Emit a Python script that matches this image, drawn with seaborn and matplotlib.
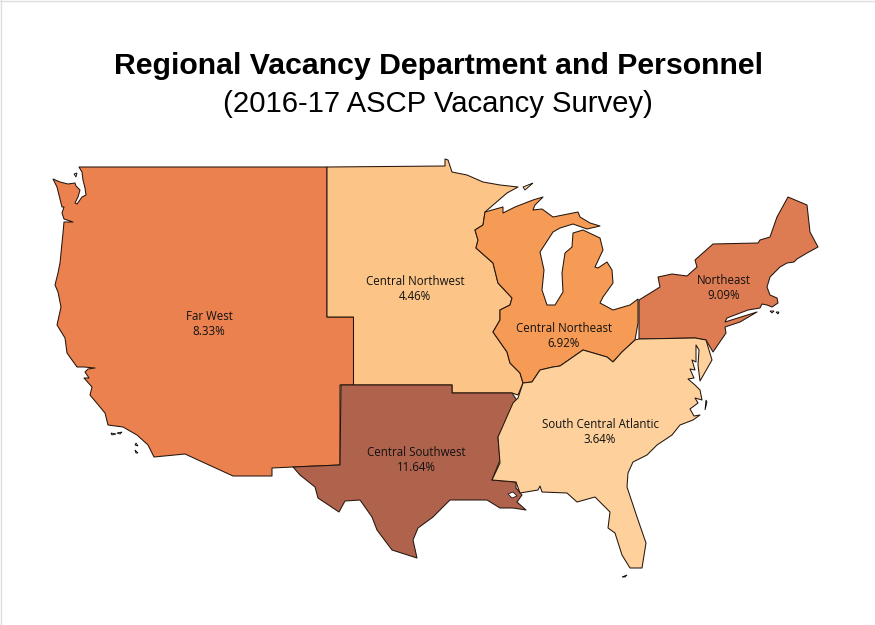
import matplotlib
matplotlib.use("Agg")
import matplotlib.pyplot as plt
import seaborn as sns

regions = ["Far West", "Central Northwest", "Central Northeast", "Northeast",
           "Central Southwest", "South Central Atlantic"]
rates = [8.33, 4.46, 6.92, 9.09, 11.64, 3.64]
region_colors = ["#EA814E", "#FCC486", "#F59B56", "#DD7B52", "#B0634C", "#FDD09C"]

# where the label sits on the map
label_x = [209, 415, 564, 724, 416, 600]
label_y = [324, 289, 336, 288, 460, 432]

# outlines, in picture pixels
far_west = [(79, 167), (327, 167), (327, 317), (353.5, 317), (353.5, 385), (340, 385), (340, 465),
            (293, 467), (272, 468), (272, 476), (233, 476), (185, 454), (154, 457), (148, 445),
            (137, 435), (123, 427), (108, 425), (105, 413), (90, 395), (92, 387), (84, 378),
            (89, 378), (85, 372), (88, 369), (95, 368), (84, 367), (77, 367), (67, 353), (65, 338),
            (57, 325), (61, 307), (58, 292), (55, 285), (58, 273), (60, 263), (63, 233), (64, 222),
            (73, 222), (64, 219), (62, 213), (64, 207), (62, 207), (57, 187), (53, 179), (60, 182),
            (68, 184), (75, 183), (76, 186), (80, 190), (78, 197), (75, 203), (77, 204), (82, 197),
            (86, 195), (85, 188), (83, 180), (82, 172)]
central_northwest = [(327, 167), (445, 166), (445, 159), (448, 160), (452, 172), (467, 175),
                     (483, 182), (500, 185), (518, 187), (507, 193), (485, 212), (483, 225),
                     (475, 230), (478, 240), (476, 248), (493, 263), (498, 283), (512, 298),
                     (510, 305), (500, 310), (500, 320), (493, 332), (507, 352), (510, 363),
                     (520, 373), (523, 383), (518, 395), (512, 393), (452, 393), (452, 385),
                     (353.5, 385), (353.5, 317), (327, 317)]
central_northeast = [(485, 212), (503, 207), (503, 213), (515, 207), (533, 200), (543, 197),
                     (535, 205), (533, 210), (542, 209), (553, 217), (578, 212), (580, 217),
                     (590, 223), (600, 226), (587, 229), (573, 224), (560, 228), (553, 232),
                     (540, 252), (544, 270), (542, 290), (547, 305), (555, 305), (563, 292),
                     (562, 273), (565, 253), (572, 247), (573, 233), (583, 230), (600, 238),
                     (603, 250), (595, 267), (598, 268), (607, 262), (612, 270), (613, 283),
                     (603, 297), (600, 303), (613, 310), (630, 305), (638, 299), (638, 323),
                     (635, 340), (622, 352), (613, 362), (607, 357), (583, 350), (573, 357),
                     (560, 366), (553, 367), (540, 370), (532, 382), (523, 383), (520, 373),
                     (510, 363), (507, 352), (493, 332), (500, 320), (500, 310), (510, 305),
                     (512, 298), (498, 283), (493, 263), (476, 248), (478, 240), (475, 230),
                     (483, 225)]
northeast = [(639, 300), (660, 287), (658, 277), (672, 274), (687, 276), (697, 267), (695, 260),
             (713, 244), (758, 243), (760, 240), (770, 237), (777, 217), (788, 197), (807, 205),
             (810, 232), (818, 247), (807, 253), (797, 259), (794, 262), (787, 263), (780, 267),
             (770, 277), (767, 287), (770, 295), (777, 298), (778, 303), (772, 307), (767, 305),
             (762, 304), (760, 308), (748, 310), (727, 318), (725, 322), (757, 312), (740, 322),
             (725, 327), (726, 333), (713, 352), (706, 340), (695, 338), (639, 339)]
central_southwest = [(341, 385), (452, 385), (452, 393), (512, 393), (518, 402), (510, 413),
                     (498, 437), (500, 460), (492, 480), (516, 482), (516, 488), (522, 495),
                     (517, 502), (526, 510), (513, 508), (500, 508), (487, 500), (462, 500),
                     (450, 500), (445, 505), (433, 517), (418, 528), (413, 540), (417, 558),
                     (392, 550), (377, 530), (372, 517), (360, 500), (345, 501), (339, 512),
                     (318, 498), (315, 487), (300, 475), (293, 467), (340, 465)]
south_central_atlantic = [(523, 383), (532, 382), (540, 370), (553, 367), (560, 366), (573, 357),
                          (583, 350), (607, 357), (613, 362), (622, 352), (635, 340), (639, 339),
                          (695, 338), (706, 340), (712, 360), (700, 381), (698, 365), (699, 350),
                          (696, 345), (696, 362), (692, 360), (695, 370), (690, 369), (694, 378),
                          (688, 379), (695, 385), (700, 390), (702, 400), (695, 398), (698, 403),
                          (690, 409), (694, 416), (700, 415), (693, 420), (680, 425), (672, 435),
                          (657, 445), (647, 455), (633, 462), (628, 473), (627, 487), (637, 517),
                          (646, 543), (642, 568), (630, 568), (622, 555), (615, 533), (608, 528),
                          (610, 512), (595, 497), (577, 502), (567, 493), (542, 492), (540, 486),
                          (538, 490), (520, 493), (516, 482), (492, 480), (500, 463), (498, 437),
                          (513, 403), (518, 398)]
outlines = [far_west, central_northwest, central_northeast, northeast,
            central_southwest, south_central_atlantic]

# small bits off the coast, and the white lake in Louisiana
islands = [[(111, 433), (116, 434), (112, 435)], [(117, 433), (122, 432), (120, 434)],
           [(136, 443), (138, 446), (135, 445)], [(135, 450), (138, 453), (136, 453)],
           [(74, 174), (77, 173), (76, 177)], [(523, 187), (533, 183), (525, 190)],
           [(770, 311), (774, 311), (772, 313)], [(776, 312), (779, 312), (778, 314)],
           [(622, 577), (627, 575), (625, 577)], [(705, 410), (706, 400), (707, 402)]]
lakes = [[(508, 494), (513, 492), (517, 496), (512, 498)]]

sns.set_theme(style="white")
plt.rcParams["font.family"] = ["Liberation Sans", "DejaVu Sans"]

fig, ax = plt.subplots(figsize=(8.75, 6.25), dpi=100)
fig.subplots_adjust(left=0, right=1, top=1, bottom=0)
ax.set_xlim(0, 875)
ax.set_ylim(625, 0)
ax.axis("off")

palette = sns.color_palette(region_colors)
for outline, color in zip(outlines, palette):
    xs, ys = zip(*outline)
    ax.fill(xs, ys, facecolor=color, edgecolor="#24160d", linewidth=0.75, joinstyle="round")
for isle in islands:
    xs, ys = zip(*isle)
    ax.fill(xs, ys, facecolor="#FDD09C", edgecolor="black", linewidth=0.6)
for lake in lakes:
    xs, ys = zip(*lake)
    ax.fill(xs, ys, facecolor="white", edgecolor="black", linewidth=0.5)

for name, rate, x, y in zip(regions, rates, label_x, label_y):
    ax.text(x, y, f"{name}\n{rate:.2f}%", ha="center", va="center", fontsize=8.3,
            family="Open Sans", color="#111111", linespacing=1.25)

ax.text(438, 66.5, "Regional Vacancy Department and Personnel", ha="center", va="center",
        fontsize=21.8, fontweight="bold", color="black")
ax.text(438, 104, "(2016-17 ASCP Vacancy Survey)", ha="center", va="center",
        fontsize=21.1, color="black")

# thin grey edge along the top and left of the page
ax.axhline(0.5, color="#dddddd", linewidth=1)
ax.axvline(0.5, color="#dddddd", linewidth=1)

fig.savefig("out.png", dpi=100)
